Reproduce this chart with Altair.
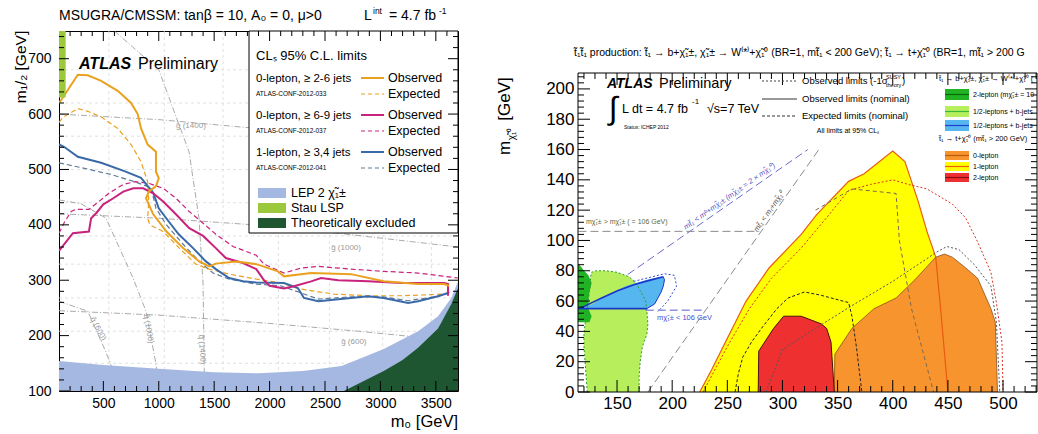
import altair as alt
import pandas as pd

FONT = "Liberation Sans"
ONE = pd.DataFrame({"k": [0]})

TT = "t\u0303\u2081"               # stop
C0 = "\u03c7\u0303\u2081\u2070"    # neutralino
CPM = "\u03c7\u0303\u2081\u00b1"   # chargino

# ===================== LEFT PANEL DATA (mSUGRA/CMSSM) =====================
L_XDOM = [100, 3700]
L_YDOM = [100, 750]
LW, LH = 399, 360
l_xlabels = [500, 1000, 1500, 2000, 2500, 3000, 3500]
l_ylabels = [100, 200, 300, 400, 500, 600, 700]
l_xminor = [v for v in range(200, 3700, 100) if v % 500]
l_yminor = [v for v in range(120, 750, 20) if v % 100]

lep_m0 = [100, 500, 1000, 1500, 1900, 2300, 2650, 3030, 3340, 3520, 3640, 3700]
lep_m12 = [154, 147, 140, 134, 132, 136, 145, 176, 208, 235, 268, 298]
theo_m0 = [2670, 2850, 3030, 3200, 3340, 3520, 3640, 3700]
theo_m12 = [100, 118, 136, 156, 178, 213, 257, 286]
stau_m0 = [100, 160]
stau_m12 = [630, 750]

obs0_m0 = [100, 135, 270, 360, 480, 630, 750, 810, 840, 900, 975, 975, 1000, 975, 910, 885, 950, 1070,
           1220, 1365, 1455, 1515, 1700, 1880, 2075, 2130, 2375, 2735, 3030, 3340, 3575, 3620]
obs0_m12 = [620, 630, 671, 670, 660, 642, 620, 600, 574, 545, 532, 496, 484, 470, 460, 448, 419, 388,
            358, 334, 325, 330, 334, 329, 316, 307, 313, 311, 298, 293, 293, 290]
exp0_m0 = [100, 135, 270, 360, 480, 630, 750, 840, 900, 910, 900, 920, 1040, 1185, 1335, 1455, 1635,
           1880, 2100, 2285, 2580, 2890, 3200, 3575, 3650]
exp0_m12 = [585, 594, 610, 605, 595, 574, 545, 514, 478, 442, 412, 400, 388, 358, 329, 320, 311,
            302, 295, 284, 275, 272, 272, 275, 280]
obs6_m0 = [100, 190, 225, 370, 390, 435, 500, 590, 680, 770, 860, 950, 1040, 1155, 1275, 1400, 1515,
           1605, 1760, 1880, 1950, 2000, 2130, 2220, 2375, 2465, 2620, 2890, 3190, 3575, 3610, 3610]
obs6_m12 = [353, 376, 385, 388, 412, 421, 437, 448, 460, 466, 466, 457, 442, 419, 394, 380, 358,
            340, 331, 320, 300, 290, 285, 289, 298, 304, 300, 298, 295, 295, 293, 272]
exp6_m0 = [100, 150, 210, 250, 370, 460, 550, 680, 790, 910, 1040, 1155, 1275, 1400, 1515, 1670,
           1880, 1950, 2130, 2285, 2440, 2735, 3030, 3340, 3700]
exp6_m12 = [385, 405, 424, 428, 428, 442, 457, 473, 478, 475, 466, 448, 424, 403, 383, 361,
            345, 329, 313, 322, 325, 320, 316, 313, 304]
obs1_m0 = [100, 145, 270, 480, 690, 840, 950, 1000, 1090, 1180, 1310, 1425, 1515, 1635, 1760, 1880,
           2130, 2255, 2310, 2440, 2735, 2890, 3030, 3250, 3340, 3520, 3610]
obs1_m12 = [545, 541, 523, 512, 497, 485, 458, 430, 406, 383, 358, 334, 320, 304, 298, 296,
            295, 286, 268, 262, 268, 271, 268, 259, 262, 271, 277]
exp1_m0 = [100, 330, 570, 780, 930, 975, 1065, 1220, 1365, 1490, 1635, 1880, 2100, 2285, 2440,
           2735, 3030, 3250, 3520, 3610]
exp1_m12 = [512, 502, 491, 478, 467, 430, 401, 365, 334, 313, 302, 293, 290, 277, 266,
            270, 270, 263, 271, 277]

# squark / gluino iso-mass guide curves
sq600_m0, sq600_m12 = [100, 360, 520, 614, 650], [262, 244, 172, 123, 100]
sq1000_m0, sq1000_m12 = [100, 300, 524, 768, 885, 975, 1000], [445, 438, 412, 304, 244, 149, 100]
sq1400_m0, sq1400_m12 = [600, 1000, 1273, 1363, 1400, 1410, 1415], [750, 680, 532, 412, 293, 141, 100]
gl600_m0, gl600_m12 = [100, 1000, 2000, 2800, 3700], [245, 237, 222, 208, 190]
gl1000_m0, gl1000_m12 = [100, 1000, 2000, 2700, 3700], [420, 412, 398, 383, 360]
gl1400_m0, gl1400_m12 = [100, 1000, 2000, 2600], [600, 590, 572, 560]
guide_text = ["g\u0303 (1400)", "g\u0303 (1000)", "g\u0303 (600)", "q\u0303 (600)", "q\u0303 (1000)", "q\u0303 (1400)"]
guide_m0 = [1290, 2690, 2760, 450, 905, 1388]
guide_m12 = [578, 358, 188, 212, 212, 175]
guide_angle = [0, 0, 0, 62, 80, 86]
faint_m0 = [550, 1050, 1580, 2080, 2540, 3020, 3460]
faint_m12 = [150, 208, 268, 329, 380, 440, 500, 560, 620, 680]

l_groups = ["0-lepton, \u2265 2-6 jets", "0-lepton, \u2265 6-9 jets", "1-lepton, \u2265 3,4 jets"]
l_refs = ["ATLAS-CONF-2012-033", "ATLAS-CONF-2012-037", "ATLAS-CONF-2012-041"]
l_regions = ["LEP 2 \u03c7\u0303\u2081\u00b1", "Stau LSP", "Theoretically excluded"]

C_OR, C_MA, C_BL, C_BLE = "#e9a11f", "#c8227c", "#3a69a8", "#5f7896"
C_LEP, C_STAU, C_THEO = "#a5b8e2", "#9cc83c", "#1d5631"

# ===================== RIGHT PANEL DATA (stop) =====================
R_XDOM = [114.6, 530.8]
R_YVIS = 210.5          # top of the drawn frame
RW, RH = 459, 361       # view height; the frame starts OY px below the view top
OY = 42
R_YDOM = [0, R_YVIS * RH / (RH - OY)]
r_xlabels = [150, 200, 250, 300, 350, 400, 450, 500]
r_ylabels = [0, 20, 40, 60, 80, 100, 120, 140, 160, 180, 200]
r_xminor = [v for v in range(120, 531, 10) if v % 50]
r_yminor = [v for v in range(4, 211, 4) if v % 20]

yel_x = [225, 236, 249, 267, 288, 317, 331, 360, 374, 400, 411, 423, 431, 439, 444, 450]
yel_y = [0, 15, 34, 60, 82, 104, 117, 139, 144, 159, 152, 126, 106, 89, 50, 0]
ora_x = [347, 347.5, 363, 383, 403, 420, 439, 447, 454, 466, 477, 489, 493, 495]
ora_y = [0, 25, 42, 55, 62, 74, 89, 91, 89, 82, 75, 55, 46, 0]
red_x = [278, 278.5, 292, 301, 317, 335, 340, 344, 347]
red_y = [0, 27, 42, 50, 50, 45, 42, 33, 0]
lg_y = [0, 10, 20, 30, 38, 45, 54, 60, 67, 72, 76, 79, 80]
lg_x1 = [123, 122, 121, 120, 120, 121, 123, 124, 125, 126, 126, 127, 131]
lg_x2 = [170, 170, 171, 173, 177, 178, 177, 176, 171, 167, 161, 150, 140]
dg_y = [46, 50, 55, 60, 66, 72, 77, 81, 84]
dg_x1 = [114.6, 114.6, 114.6, 114.6, 114.6, 114.6, 114.6, 114.6, 114.6]
dg_x2 = [125, 127, 124, 124, 125, 127, 124, 119, 116]
bw_y = [55, 58, 62, 66, 70, 74, 76]
bw_x1 = [116, 128, 136, 147, 158, 177, 190]
bw_x2 = [177, 184, 187, 190, 192, 193, 192]
bw_top_x = [116, 136, 151, 166, 181, 192]
bw_top_y = [55, 62, 67, 71, 74, 76]

diag_t_x, diag_t_y = [178, 333], [0, 160]
diag_b_x, diag_b_y = [115, 323], [55, 160]
lep106_x, lep106_y = [115, 279], [106, 106]
lepb_x, lepb_y = [176, 229], [54, 54]
exp1l_x = [257, 260, 264, 272, 282, 295, 305, 320, 334, 360, 363, 367, 372]
exp1l_y = [0, 12, 23, 33, 43, 55, 62, 66, 64, 59, 50, 30, 0]
sig1l_x = [228, 250, 270, 290, 317, 340, 360, 380, 400, 414, 431, 454, 466, 477, 489, 494, 499, 500]
sig1l_y = [0, 30, 55, 75, 95, 115, 133, 137, 140, 137, 134, 124, 115, 99, 79, 59, 33, 0]
gr1l_x, gr1l_y = [330, 363, 403, 406, 417, 437], [120, 134, 131, 100, 55, 0]
exp0l_x = [285, 300, 330, 363, 400, 431, 439, 449, 460, 474, 489, 494, 497]
exp0l_y = [0, 28, 42, 57, 73, 88, 92, 96, 94, 84, 70, 46, 0]
bdot_x, bdot_y = [165, 193, 202, 204, 196, 187], [73, 78, 77, 70, 60, 53]

r_leg_lines = ["Observed limits (-1\u03c3", "Observed limits (nominal)", "Expected limits (nominal)"]
r_leg_a = ["2-lepton (m" + CPM + " = 106 GeV)", "1/2-leptons + b-jets (m" + CPM + " = 2 m" + C0 + ")",
           "1/2-leptons + b-jets (m" + C0 + " = 55 GeV)"]
r_leg_b = ["0-lepton", "1-lepton", "2-lepton"]

C_YEL, C_ORA, C_RED = "#ffff00", "#f7942e", "#ee3030"
C_LG, C_DG, C_BW = "#b7ef5c", "#20b424", "#56b6f0"


# ===================== helpers =====================
def txt(s, x, y, size, color="black", align="left", baseline="middle", angle=0,
        bold=False, italic=False, limit=None):
    p = dict(text=s, fontSize=size, font=FONT, color=color, align=align,
             baseline=baseline, angle=angle % 360)
    if bold:
        p["fontWeight"] = "bold"
    if italic:
        p["fontStyle"] = "italic"
    if limit:
        p["limit"] = limit
        p["ellipsis"] = " "
    return alt.Chart(ONE).mark_text(**p).encode(x=alt.value(x), y=alt.value(y))


def seg(x1, y1, x2, y2, color="black", width=1.0, dash=None):
    p = dict(color=color, strokeWidth=width)
    if dash:
        p["strokeDash"] = dash
    return alt.Chart(ONE).mark_rule(**p).encode(
        x=alt.value(x1), y=alt.value(y1), x2=alt.value(x2), y2=alt.value(y2))


def box(x1, y1, x2, y2, fill, stroke=None, width=1.0, fill_opacity=1):
    p = dict(fill=fill, fillOpacity=fill_opacity)
    if stroke:
        p.update(stroke=stroke, strokeWidth=width)
    else:
        p["strokeWidth"] = 0
    return alt.Chart(ONE).mark_rect(**p).encode(
        x=alt.value(x1), y=alt.value(y1), x2=alt.value(x2), y2=alt.value(y2))


def encoders(xdom, ydom, xl, yl, size, xpad, ypad):
    sx = alt.Scale(domain=xdom, nice=False, zero=False)
    sy = alt.Scale(domain=ydom, nice=False, zero=False)
    com = dict(ticks=False, domain=False, grid=False, title=None, labelFont=FONT,
               labelFontSize=size, labelColor="black", labelFlush=False,
               labelOverlap=False, format="d")
    ax = alt.Axis(values=xl, labelPadding=xpad, **com)
    ay = alt.Axis(values=yl, labelPadding=ypad, **com)
    return (lambda f: alt.X(f, type="quantitative", scale=sx, axis=ax),
            lambda f: alt.Y(f, type="quantitative", scale=sy, axis=ay))


def curve(X, Y, xs, ys, color, width, dash=None):
    d = pd.DataFrame({"x": xs, "y": ys, "i": list(range(len(xs)))})
    p = dict(color=color, strokeWidth=width, clip=True)
    if dash:
        p["strokeDash"] = dash
    return alt.Chart(d).mark_line(**p).encode(x=X("x"), y=Y("y"), order=alt.Order("i:Q"))


def varea(X, Y, xs, ys, base, color):
    d = pd.DataFrame({"x": xs, "y": ys, "b": [base] * len(xs)})
    return alt.Chart(d).mark_area(color=color, opacity=1, clip=True).encode(
        x=X("x"), y=Y("y"), y2=alt.Y2("b"))


def harea(X, Y, ys, x1s, x2s, color):
    d = pd.DataFrame({"y": ys, "a": x1s, "b": x2s})
    return alt.Chart(d).mark_area(color=color, opacity=1, orient="horizontal", clip=True).encode(
        y=Y("y"), x=X("a"), x2=alt.X2("b"))


def ticks(X, Y, W, H, top, xmaj, xmin, ymaj, ymin, lmaj, lmin):
    out = []
    for vals, L in ((xmaj, lmaj), (xmin, lmin)):
        d = pd.DataFrame({"v": vals})
        out.append(alt.Chart(d).mark_rule(color="black", strokeWidth=1).encode(
            x=X("v"), y=alt.value(H), y2=alt.value(H - L)))
        out.append(alt.Chart(d).mark_rule(color="black", strokeWidth=1).encode(
            x=X("v"), y=alt.value(top), y2=alt.value(top + L)))
    for vals, L in ((ymaj, lmaj), (ymin, lmin)):
        d = pd.DataFrame({"v": vals})
        out.append(alt.Chart(d).mark_rule(color="black", strokeWidth=1).encode(
            y=Y("v"), x=alt.value(0), x2=alt.value(L)))
        out.append(alt.Chart(d).mark_rule(color="black", strokeWidth=1).encode(
            y=Y("v"), x=alt.value(W), x2=alt.value(W - L)))
    return out


# ===================== LEFT PANEL =====================
LX, LY = encoders(L_XDOM, L_YDOM, l_xlabels, l_ylabels, 14, 5, 8)
left = [seg(-50, -24, LW + 2, -24, color="white")]
left.append(alt.Chart(pd.DataFrame({"v": faint_m0})).mark_rule(
    color="#d9d9d9", strokeWidth=0.8, strokeDash=[3, 3]).encode(x=LX("v")))
left.append(alt.Chart(pd.DataFrame({"v": faint_m12})).mark_rule(
    color="#d9d9d9", strokeWidth=0.8, strokeDash=[3, 3]).encode(y=LY("v")))
for gx, gy in ((sq600_m0, sq600_m12), (sq1000_m0, sq1000_m12), (sq1400_m0, sq1400_m12),
               (gl600_m0, gl600_m12), (gl1000_m0, gl1000_m12), (gl1400_m0, gl1400_m12)):
    left.append(curve(LX, LY, gx, gy, "#a0a0a0", 0.9, [6, 2, 1, 2]))
left.append(alt.Chart(pd.DataFrame({"t": guide_text, "x": guide_m0, "y": guide_m12, "a": guide_angle}))
            .mark_text(font=FONT, fontSize=8, color="#9a9a9a")
            .encode(x=LX("x"), y=LY("y"), text="t:N", angle=alt.Angle("a:Q", scale=None)))
left += [
    curve(LX, LY, exp1_m0, exp1_m12, C_BLE, 1.2, [5, 3]),
    curve(LX, LY, exp6_m0, exp6_m12, C_MA, 1.2, [5, 3]),
    curve(LX, LY, exp0_m0, exp0_m12, C_OR, 1.2, [5, 3]),
    curve(LX, LY, obs1_m0, obs1_m12, C_BL, 2.0),
    curve(LX, LY, obs6_m0, obs6_m12, C_MA, 2.0),
    curve(LX, LY, obs0_m0, obs0_m12, C_OR, 2.0),
    varea(LX, LY, lep_m0, lep_m12, 100, C_LEP),
    varea(LX, LY, theo_m0, theo_m12, 100, C_THEO),
    alt.Chart(pd.DataFrame({"a": [stau_m0[0]], "b": [stau_m0[1]], "c": [stau_m12[0]], "d": [stau_m12[1]]}))
    .mark_rect(color=C_STAU, clip=True).encode(x=LX("a"), x2=alt.X2("b"), y=LY("c"), y2=alt.Y2("d")),
]
# legend box
left.append(box(190, 0, LW, 202, "white", "black", 1))
left.append(txt("CL\u209b 95% C.L. limits", 197, 25, 13))
gy = [48, 85, 122]
for k, (g, r, c) in enumerate(zip(l_groups, l_refs, [C_OR, C_MA, C_BLE])):
    y0 = gy[k]
    left.append(txt(g, 197, y0, 11.5))
    left.append(txt(r, 197, y0 + 15, 6.5))
    left.append(seg(302, y0 - 1, 325, y0 - 1, [C_OR, C_MA, C_BL][k], 2))
    left.append(seg(302, y0 + 15, 325, y0 + 15, c, 1.2, [4, 3]))
    left.append(txt("Observed", 329, y0 - 1, 12.5))
    left.append(txt("Expected", 329, y0 + 15, 12.5))
for k, (lab, c) in enumerate(zip(l_regions, [C_LEP, C_STAU, C_THEO])):
    yb = 157 + 15 * k
    left.append(box(199, yb, 227, yb + 10, c))
    left.append(txt(lab, 232, yb + 5, 12.5))
left += ticks(LX, LY, LW, LH, 0, l_xlabels, l_xminor, l_ylabels, l_yminor, 10, 5)
left += [
    txt("ATLAS", 20, 33, 16, bold=True, italic=True),
    txt("Preliminary", 79, 33, 16),
    txt("MSUGRA/CMSSM: tan\u03b2 = 10, A\u2080 = 0, \u03bc>0", 0, -15, 14),
    txt("L", 305, -15, 14),
    txt("int", 314, -20, 8.5),
    txt("= 4.7 fb", 330, -15, 14),
    txt("-1", 380, -20, 8.5),
    txt("m\u2081/\u2082 [GeV]", -38, 36, 15.5, align="center", angle=270),
    txt("m\u2080 [GeV]", LW, 391, 16.5, align="right"),
]
left_chart = alt.layer(*left).properties(width=LW, height=LH)

# ===================== RIGHT PANEL =====================
RX, RY = encoders(R_XDOM, R_YDOM, r_xlabels, r_ylabels, 17, 3, 4)
right = [
    curve(RX, RY, diag_t_x, diag_t_y, "#8a8a8a", 1, [8, 4]),
    curve(RX, RY, diag_b_x, diag_b_y, "#6a6ad0", 1, [8, 4]),
    curve(RX, RY, lep106_x, lep106_y, "#8a8a8a", 1, [8, 4]),
    varea(RX, RY, yel_x, yel_y, 0, C_YEL),
    varea(RX, RY, ora_x, ora_y, 0, C_ORA),
    varea(RX, RY, red_x, red_y, 0, C_RED),
    harea(RX, RY, lg_y, lg_x1, lg_x2, C_LG),
    harea(RX, RY, dg_y, dg_x1, dg_x2, C_DG),
    harea(RX, RY, bw_y, bw_x1, bw_x2, C_BW),
    curve(RX, RY, lg_x1 + lg_x2[::-1], lg_y + lg_y[::-1], "#2f9a2f", 1, [2, 2]),
    curve(RX, RY, bw_top_x, bw_top_y, "#1c36c8", 1.6),
    curve(RX, RY, [114.6, 177], [55, 55], "#1c36c8", 1.6),
    curve(RX, RY, bw_x2, bw_y, "#1c36c8", 1),
    curve(RX, RY, bdot_x, bdot_y, "#3050d0", 1, [2, 2]),
    curve(RX, RY, lepb_x, lepb_y, "#5a5ad0", 1, [8, 4]),
    curve(RX, RY, yel_x, yel_y, "#e85c10", 1.2),
    curve(RX, RY, ora_x, ora_y, "#8a5020", 0.8),
    curve(RX, RY, red_x, red_y, "#4a1010", 1),
    curve(RX, RY, sig1l_x, sig1l_y, "#e03020", 1, [2, 2]),
    curve(RX, RY, gr1l_x, gr1l_y, "#7a6a50", 1, [4, 3]),
    curve(RX, RY, exp1l_x, exp1l_y, "#222222", 1, [3, 2]),
    curve(RX, RY, exp0l_x, exp0l_y, "#555555", 1, [2, 2]),
]
lab = pd.DataFrame({
    "t": ["m" + TT + " < m\u1d47+m" + CPM + " (m" + CPM + " = 2 \u00d7 m" + C0 + ")",
          "m" + TT + " < m\u209c+m" + C0],
    "x": [252, 288], "y": [129, 119], "a": [325, 305], "c": ["#5050c0", "#555555"]})
right.append(alt.Chart(lab).mark_text(font=FONT, fontSize=7.5, fontStyle="italic")
             .encode(x=RX("x"), y=RY("y"), text="t:N", angle=alt.Angle("a:Q", scale=None),
                     color=alt.Color("c:N", scale=None)))
right += [
    txt("m" + CPM + " > m" + CPM + " ( = 106 GeV)", 8, OY + 149, 7, color="#5a6a40"),
    txt("m" + CPM + " < 106 GeV", 79, OY + 245, 7.5, color="#4a4ad0"),
]
right += ticks(RX, RY, RW, RH, OY, r_xlabels, r_xminor, r_ylabels, r_yminor, 12, 6)
right += [
    box(0, OY, RW, RH, "white", "black", 1, 0),
    txt("ATLAS", 29, OY + 11, 14, bold=True, italic=True),
    txt("Preliminary", 81, OY + 11, 14.5),
    txt("\u222b", 35, OY + 36, 32, align="center"),
    txt("L dt = 4.7 fb", 44, OY + 36, 12.5),
    txt("-1", 114, OY + 29, 8),
    txt("\u221as=7 TeV", 129, OY + 36, 12.5),
    txt("Status: ICHEP 2012", 46, OY + 54, 5),
    seg(184, OY + 8, 219, OY + 8, "#444444", 1, [2, 2]),
    seg(184, OY + 26, 219, OY + 26, "#333333", 1.2),
    seg(184, OY + 43, 219, OY + 43, "#333333", 1.2, [3, 2]),
    txt(r_leg_lines[0], 224, OY + 8, 9.5),
    txt("SUSY", 308, OY + 4, 5.5),
    txt("theory", 308, OY + 12, 5.5),
    txt(")", 324, OY + 8, 9.5),
    txt(r_leg_lines[1], 224, OY + 26, 9.5),
    txt(r_leg_lines[2], 224, OY + 43, 9.5),
    txt("All limits at 95% CL\u209b", 270, OY + 58, 7, align="center"),
    txt(TT + " \u2192 b+" + CPM + ", " + CPM + " \u2192 W\u207d*\u207e+" + C0 + " (m" + TT + " < 200 GeV)",
        361, OY + 6, 7.5, limit=RW - 361),
    txt(TT + " \u2192 t+" + C0 + " (m" + TT + " > 200 GeV)", 361, OY + 66, 7.5, limit=RW - 361),
    txt(TT + TT + " production:  " + TT + " \u2192 b+" + CPM + ", " + CPM + " \u2192 W\u207d*\u207e+" + C0 +
        " (BR=1, m" + TT + " < 200 GeV);  " + TT + " \u2192 t+" + C0 + " (BR=1, m" + TT + " > 200 GeV)",
        -4, OY - 20, 10.5, limit=RW + 4),
    txt("m", -73, OY + 75, 17, align="center", angle=270),
    txt(C0, -66, OY + 61, 10, align="center", angle=270),
    txt("[GeV]", -73, OY + 26, 17, align="center", angle=270),
]
for k, (lbl, fc, lc) in enumerate(zip(r_leg_a, [C_DG, C_LG, C_BW], ["#0a6a0a", "#38b838", "#2040d0"])):
    yb = OY + [16, 33, 47][k]
    right.append(box(367, yb, 391, yb + 11, fc))
    right.append(seg(367, yb + 5.5, 391, yb + 5.5, lc, 1.2))
    right.append(txt(lbl, 395, yb + 6, 7, limit=RW - 395))
for k, (lbl, fc, lc) in enumerate(zip(r_leg_b, [C_ORA, C_YEL, C_RED], ["#b85a10", "#f06000", "#8a0e0e"])):
    yb = OY + [78, 89, 100][k]
    right.append(box(367, yb, 391, yb + 9, fc))
    right.append(seg(367, yb + 4.5, 391, yb + 4.5, lc, 1.2))
    right.append(txt(lbl, 395, yb + 5, 7, limit=RW - 395))
right_chart = alt.layer(*right).properties(
    width=RW, height=RH, view=alt.ViewBackground(stroke="transparent"))

chart = (alt.hconcat(left_chart, right_chart, spacing=34)
         .properties(padding={"left": 8, "top": 6, "right": 0, "bottom": 0})
         .configure(font=FONT)
         .configure_view(stroke="black", strokeWidth=1))
chart.save("out.html", embed_options={"renderer": "svg", "actions": False})
